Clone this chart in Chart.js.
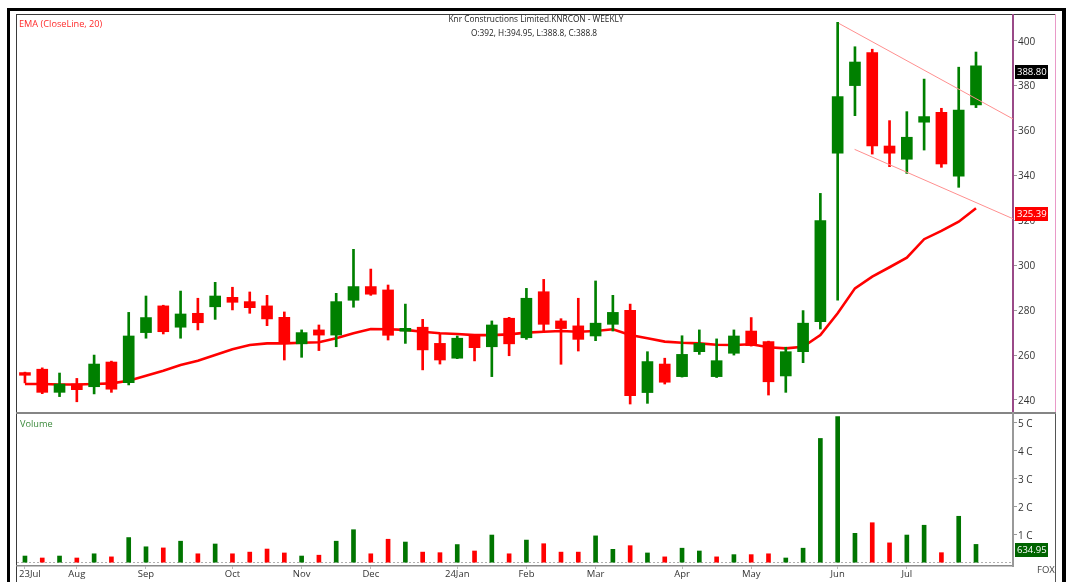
<!DOCTYPE html>
<html>
<head>
<meta charset="utf-8">
<script src="https://cdn.jsdelivr.net/npm/chart.js@4.4.1/dist/chart.umd.min.js"></script>
<style>
  html, body { margin: 0; padding: 0; background: #fff; overflow: hidden; }
  #wrap { position: relative; width: 1068px; height: 582px; }
  #frame { position: absolute; left: 7px; top: 8px; width: 1052px; height: 600px; border: 3px solid #000; border-right-width: 4px; }
  #c { position: absolute; left: 0; top: 0; }
</style>
</head>
<body>
<div id="wrap">
  <div id="frame"></div>
  <canvas id="c" width="1068" height="582" style="width:1068px;height:582px"></canvas>
</div>
<script>
// weekly candles, Jul 2023 -> Jul 2024 (index = week number)
const monthTicks = [0, 3, 7, 12, 16, 20, 25, 29, 33, 38, 42, 47, 51];
const monthLabels = ['23Jul', 'Aug', 'Sep', 'Oct', 'Nov', 'Dec', '24Jan', 'Feb', 'Mar', 'Apr', 'May', 'Jun', 'Jul'];

const opens = [252.2, 253.7, 243.4, 247.1, 245.9, 256.9, 247.7, 270.0, 281.9, 272.4,
               278.6, 281.5, 285.7, 283.8, 281.9, 276.8, 265.0, 271.2, 268.9, 284.4,
               290.5, 289.0, 270.6, 272.4, 265.2, 258.6, 268.5, 263.7, 276.4, 267.7,
               288.2, 275.2, 273.0, 268.5, 273.7, 279.9, 243.3, 256.0, 250.4, 261.5,
               250.4, 260.8, 270.7, 266.0, 250.7, 261.5, 274.9, 349.9, 380.0, 394.7,
               353.1, 347.2, 363.7, 368.1, 339.7, 371.4];
const highs = [252.4, 254.3, 252.0, 249.6, 260.0, 257.3, 279.0, 286.3, 282.2, 288.5,
               285.3, 292.4, 290.2, 288.1, 286.6, 279.2, 271.2, 273.4, 287.5, 307.1,
               298.3, 291.2, 282.7, 275.9, 269.7, 268.5, 268.8, 275.2, 276.8, 289.7,
               293.7, 276.2, 285.3, 293.0, 286.6, 282.7, 261.5, 258.6, 268.6, 271.2,
               267.2, 271.2, 276.7, 266.2, 263.5, 279.8, 332.0, 408.2, 397.3, 396.2,
               364.4, 368.4, 382.9, 369.9, 388.2, 394.95];
const lows = [247.6, 242.8, 241.5, 239.2, 242.7, 243.4, 246.7, 267.5, 269.4, 267.5,
              271.2, 275.9, 280.1, 278.6, 273.1, 257.8, 259.0, 262.0, 263.7, 281.3,
              286.6, 266.7, 265.2, 253.4, 256.0, 258.4, 257.4, 250.4, 259.7, 267.0,
              270.4, 255.9, 261.8, 266.4, 270.7, 238.2, 238.5, 247.1, 250.2, 260.3,
              250.0, 260.0, 264.0, 242.2, 243.4, 256.6, 271.6, 284.5, 366.6, 349.5,
              343.9, 340.9, 351.3, 343.6, 334.7, 370.2];
const closes = [251.0, 243.4, 247.1, 244.6, 256.0, 244.8, 268.5, 276.7, 270.4, 278.3,
                274.4, 286.3, 283.5, 281.1, 276.1, 265.5, 270.0, 268.9, 283.8, 290.5,
                287.1, 268.8, 271.9, 262.3, 257.8, 267.5, 263.3, 273.4, 265.0, 285.3,
                273.7, 271.8, 267.0, 274.2, 279.0, 241.9, 257.1, 247.9, 260.3, 265.2,
                257.5, 268.5, 264.2, 248.1, 261.5, 274.2, 319.9, 375.1, 390.5, 353.1,
                349.9, 357.0, 366.2, 345.1, 369.1, 388.8];
const ema20 = [247.1, 247.1, 246.9, 246.9, 247.1, 247.4, 248.6, 250.8, 253.0, 255.6,
               257.5, 260.0, 262.6, 264.5, 265.2, 265.2, 265.5, 265.7, 267.5, 269.7,
               271.6, 271.5, 271.2, 270.4, 269.7, 269.4, 268.9, 268.9, 269.2, 270.0,
               270.4, 270.7, 270.4, 270.7, 271.5, 268.9, 267.5, 266.0, 265.5, 265.2,
               264.6, 264.5, 264.8, 263.5, 263.0, 263.7, 268.9, 278.6, 289.7, 294.9,
               299.1, 303.4, 311.6, 315.3, 319.4, 325.39];
// volume in units of 10,000 shares (1000 = 1 crore)
const volumes = [220, 150, 220, 150, 300, 190, 880, 550, 510, 750,
                 300, 650, 300, 360, 470, 330, 220, 250, 750, 1160,
                 300, 820, 720, 360, 340, 630, 400, 970, 300, 790,
                 660, 360, 360, 940, 460, 590, 330, 190, 500, 400,
                 190, 270, 270, 300, 150, 500, 4420, 5200, 1030, 1410,
                 690, 970, 1320, 340, 1640, 634.95];

const priceTicks = [240, 260, 280, 300, 320, 340, 360, 380, 400];
const volumeTicks = [1000, 2000, 3000, 4000, 5000];
// falling channel drawn on the chart: [week, price]
const upperTrend = [[47.07, 407.7], [57.2, 364.9]];
const lowerTrend = [[47.98, 351.6], [57.2, 320.5]];

const lastClose = 388.8, lastEma = 325.39, lastVolume = 634.95;
const titleLine1 = 'Knr Constructions Limited.KNRCON - WEEKLY';
const titleLine2 = 'O:392, H:394.95, L:388.8, C:388.8';

const GREEN = '#008000', RED = '#ff0000';
const FONT = '"Open Sans", "Liberation Sans", sans-serif';

let candleColor = closes.map((c, i) => c > opens[i] ? GREEN : RED);
let volColor = closes.map((c, i) => (i === 0 || c >= closes[i - 1]) ? '#007500' : RED);

let bodies = opens.map((o, i) => ({ x: i, y: [o, closes[i]] }));
let wicks = lows.map((l, i) => ({ x: i, y: [l, highs[i]] }));
let emaPts = ema20.map((v, i) => ({ x: i, y: v }));
let volPts = volumes.map((v, i) => ({ x: i, y: v }));

function line(ctx, x1, y1, x2, y2) {
  ctx.beginPath(); ctx.moveTo(x1, y1); ctx.lineTo(x2, y2); ctx.stroke();
}

const panels = {
  id: 'panels',
  beforeDraw(chart) {
    const ctx = chart.ctx, a = chart.chartArea, py = chart.scales.y, vy = chart.scales.yv;
    ctx.save();
    ctx.fillStyle = '#fff';
    ctx.fillRect(16, 14, 1040, 568);
    ctx.lineWidth = 1;
    ctx.strokeStyle = '#3a3a3a';
    line(ctx, 16.5, 14, 16.5, 582);
    line(ctx, 16, 14.5, 1056, 14.5);
    ctx.strokeStyle = '#e99ac8';
    line(ctx, 1055.5, 14, 1055.5, py.bottom);
    ctx.strokeStyle = '#555';
    line(ctx, 1055.5, py.bottom, 1055.5, 582);
    // divider between price and volume
    ctx.strokeStyle = '#858585';
    ctx.lineWidth = 2;
    line(ctx, 16, py.bottom, 1056, py.bottom);
    // volume zero line
    ctx.lineWidth = 1;
    ctx.setLineDash([2, 2]);
    ctx.strokeStyle = '#b0b0b0';
    const z = Math.round(vy.getPixelForValue(0)) + 0.5;
    line(ctx, a.left, z, a.right, z);
    ctx.restore();
  },
  afterDraw(chart) {
    const ctx = chart.ctx, py = chart.scales.y, vy = chart.scales.yv;
    ctx.save();
    ctx.textBaseline = 'middle';
    ctx.font = '8.3px ' + FONT;
    ctx.fillStyle = '#222';
    ctx.textAlign = 'center';
    ctx.fillText(titleLine1, 536, 20);
    ctx.fillText(titleLine2, 534, 34);
    ctx.textAlign = 'left';
    ctx.font = '9.2px ' + FONT;
    ctx.fillStyle = '#ff2a2a';
    ctx.fillText('EMA (CloseLine, 20)', 19, 24);
    ctx.fillStyle = '#3d8b3d';
    ctx.fillText('Volume', 20, 424);
    ctx.fillStyle = '#444';
    ctx.font = '9.5px ' + FONT;
    ctx.fillText('FOX', 1037, 570);

    function tag(text, pix, bg) {
      const top = Math.round(pix) - 1;
      ctx.fillStyle = bg;
      ctx.fillRect(1015, top, 33, 14);
      ctx.fillStyle = '#fff';
      ctx.fillText(text, 1017, top + 7.5);
    }
    tag(lastClose.toFixed(2), py.getPixelForValue(lastClose), '#000');
    tag(lastEma.toFixed(2), py.getPixelForValue(lastEma), RED);
    tag(lastVolume.toFixed(2), vy.getPixelForValue(lastVolume), '#006400');
    ctx.restore();
  }
};

const ctx = document.getElementById('c').getContext('2d');
const chart = new Chart(ctx, {
  type: 'bar',
  data: {
    datasets: [
      {
        type: 'line', label: 'upper', data: upperTrend.map(p => ({ x: p[0], y: p[1] })),
        yAxisID: 'y', borderColor: '#ff8f8f', borderWidth: 1, pointRadius: 0, order: -1
      },
      {
        type: 'line', label: 'lower', data: lowerTrend.map(p => ({ x: p[0], y: p[1] })),
        yAxisID: 'y', borderColor: '#ff8f8f', borderWidth: 1, pointRadius: 0, order: -1
      },
      {
        label: 'body', data: bodies, yAxisID: 'y', grouped: false, barThickness: 11,
        backgroundColor: candleColor, borderWidth: 0, order: 0
      },
      {
        label: 'wick', data: wicks, yAxisID: 'y', grouped: false, barThickness: 2,
        backgroundColor: candleColor, borderWidth: 0, order: 1
      },
      {
        type: 'line', label: 'EMA', data: emaPts, yAxisID: 'y', borderColor: RED,
        borderWidth: 2.6, pointRadius: 0, tension: 0, order: 2
      },
      {
        label: 'Volume', data: volPts, yAxisID: 'yv', grouped: false, barThickness: 4,
        backgroundColor: volColor, borderWidth: 0, order: 0
      }
    ]
  },
  options: {
    responsive: false,
    animation: false,
    devicePixelRatio: 1,
    layout: { padding: { left: 17, top: 15, right: 12, bottom: 0 } },
    plugins: { legend: { display: false }, tooltip: { enabled: false } },
    scales: {
      x: {
        type: 'linear', offset: false, min: -0.46, max: 57.14,
        afterBuildTicks: s => { s.ticks = monthTicks.map(v => ({ value: v })); },
        afterFit: s => { s.height = 16; },
        ticks: {
          autoSkip: false, maxRotation: 0, padding: 0, color: '#333',
          font: { family: FONT, size: 9.5 },
          // the first label sits against the left edge, so nudge it right
          callback: v => (v === 0 ? '    ' : '') + monthLabels[monthTicks.indexOf(v)]
        },
        grid: { offset: false, drawOnChartArea: false, tickLength: 3, color: '#bbb' },
        border: { display: true, color: '#8a8a8a', width: 1.5 }
      },
      y: {
        type: 'linear', position: 'right', stack: 'panes', stackWeight: 398,
        min: 234.2, max: 411.44, beginAtZero: false,
        afterBuildTicks: s => { s.ticks = priceTicks.map(v => ({ value: v })); },
        afterFit: s => { s.width = 43; },
        ticks: { padding: 1, labelOffset: 1, color: '#333', font: { family: FONT, size: 10 } },
        grid: { drawOnChartArea: false, tickLength: 4, color: '#999' },
        border: { display: true, color: '#9a4a88', width: 2 }
      },
      yv: {
        type: 'linear', position: 'right', stack: 'panes', stackWeight: 153,
        min: -136, max: 5329,
        afterBuildTicks: s => { s.ticks = volumeTicks.map(v => ({ value: v })); },
        afterFit: s => { s.width = 43; },
        ticks: {
          padding: 1, labelOffset: 2, color: '#333', font: { family: FONT, size: 10 },
          callback: v => (v / 1000) + ' C'
        },
        grid: { drawOnChartArea: false, tickLength: 4, color: '#999' },
        border: { display: true, color: '#999', width: 2 }
      }
    }
  },
  plugins: [panels]
});
</script>
</body>
</html>
